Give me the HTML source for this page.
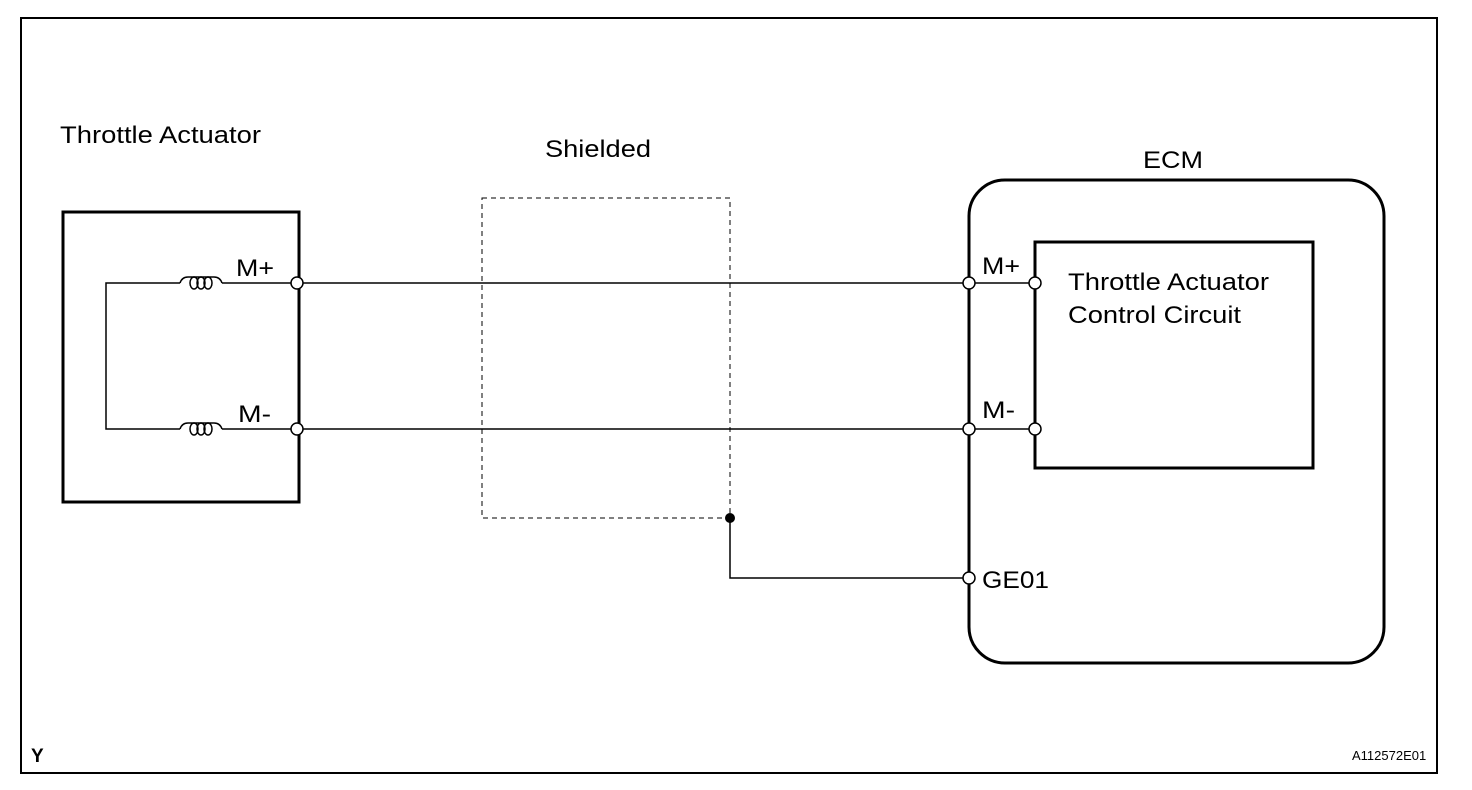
<!DOCTYPE html>
<html><head><style>body{margin:0;background:#fff}svg{display:block}text{font-family:"Liberation Sans",Arial,sans-serif;fill:#000}</style></head>
<body>
<svg width="1472" height="790" viewBox="0 0 1472 790" xmlns="http://www.w3.org/2000/svg">
<rect x="21" y="18" width="1416" height="755" fill="none" stroke="#000" stroke-width="2"/>
<text x="60" y="143" font-size="24" textLength="201" lengthAdjust="spacingAndGlyphs">Throttle Actuator</text>
<text x="545" y="157" font-size="24" textLength="106" lengthAdjust="spacingAndGlyphs">Shielded</text>
<text x="1143" y="168" font-size="24" textLength="60" lengthAdjust="spacingAndGlyphs">ECM</text>
<rect x="63" y="212" width="236" height="290" fill="none" stroke="#000" stroke-width="3"/>
<rect x="482" y="198" width="248" height="320" fill="none" stroke="#000" stroke-width="1" stroke-dasharray="5,4"/>
<rect x="969" y="180" width="415" height="483" rx="36" fill="none" stroke="#000" stroke-width="3"/>
<rect x="1035" y="242" width="278" height="226" fill="none" stroke="#000" stroke-width="3"/>
<text x="1068" y="290" font-size="24" textLength="201" lengthAdjust="spacingAndGlyphs">Throttle Actuator</text>
<text x="1068" y="323" font-size="24" textLength="173" lengthAdjust="spacingAndGlyphs">Control Circuit</text>
<g fill="none" stroke="#000" stroke-width="1.5">
<path d="M180 283 H106 V429 H180"/>
<path d="M180 283 q2 -6 8 -6 M180 429 q2 -6 8 -6"/>
<path d="M222 283 q-2 -6 -8 -6 M222 429 q-2 -6 -8 -6"/>
<path d="M188 277 H214 M188 423 H214"/>
<ellipse cx="194" cy="283" rx="4" ry="6"/><ellipse cx="201" cy="283" rx="4" ry="6"/><ellipse cx="208" cy="283" rx="4" ry="6"/>
<ellipse cx="194" cy="429" rx="4" ry="6"/><ellipse cx="201" cy="429" rx="4" ry="6"/><ellipse cx="208" cy="429" rx="4" ry="6"/>
<path d="M222 283 H1035 M222 429 H1035"/>
<path d="M730 518 V578 H969"/>
</g>
<g fill="#fff" stroke="#000" stroke-width="1.5">
<circle cx="297" cy="283" r="6"/><circle cx="297" cy="429" r="6"/>
<circle cx="969" cy="283" r="6"/><circle cx="969" cy="429" r="6"/><circle cx="969" cy="578" r="6"/>
<circle cx="1035" cy="283" r="6"/><circle cx="1035" cy="429" r="6"/>
</g>
<circle cx="730" cy="518" r="5" fill="#000"/>
<text x="236" y="276" font-size="24" textLength="38" lengthAdjust="spacingAndGlyphs">M+</text>
<text x="238" y="422" font-size="24" textLength="33" lengthAdjust="spacingAndGlyphs">M-</text>
<text x="982" y="274" font-size="24" textLength="38" lengthAdjust="spacingAndGlyphs">M+</text>
<text x="982" y="418" font-size="24" textLength="33" lengthAdjust="spacingAndGlyphs">M-</text>
<text x="982" y="588" font-size="24" textLength="67" lengthAdjust="spacingAndGlyphs">GE01</text>
<text x="31" y="762" font-size="19" font-weight="bold">Y</text>
<text x="1352" y="760" font-size="13">A112572E01</text>
</svg>
</body></html>
